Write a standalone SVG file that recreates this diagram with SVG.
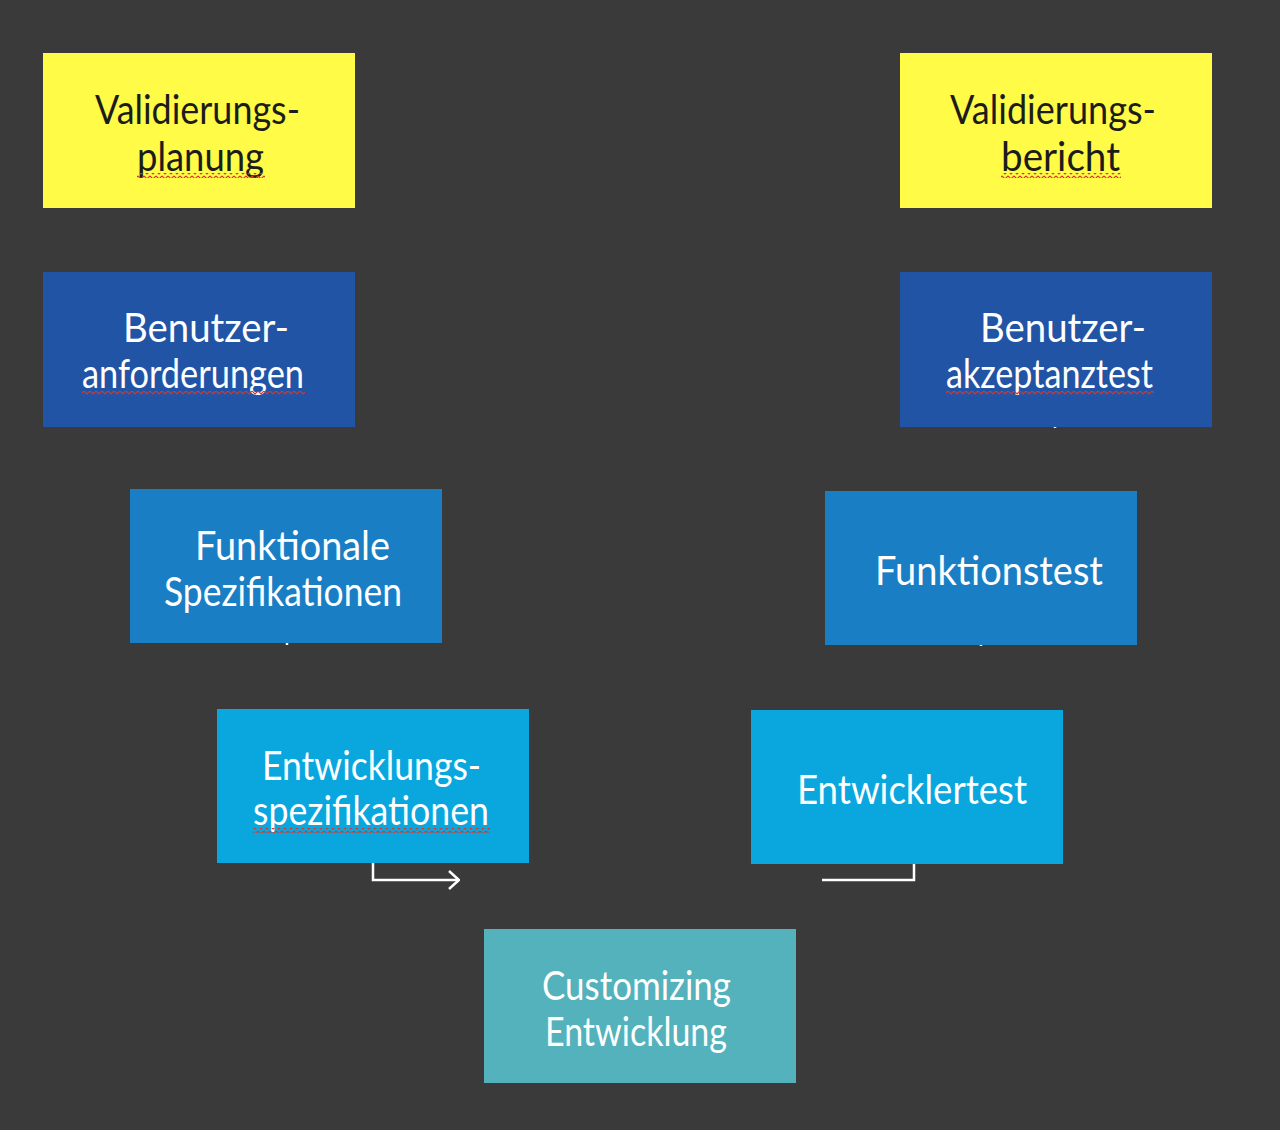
<svg xmlns="http://www.w3.org/2000/svg" width="1280" height="1130" viewBox="0 0 1280 1130">
<defs>
<style>
.t{font-family:Lato,"Open Sans","Liberation Sans",sans-serif;font-size:41px;}
.w{fill:#ffffff;}
.k{fill:#1c1c1c;}
.conn{fill:none;stroke:#ffffff;stroke-width:2.5;}
</style>
<marker id="arr" viewBox="0 0 12 20" refX="11" refY="10" markerWidth="12" markerHeight="20" markerUnits="userSpaceOnUse" orient="auto">
<path d="M1,1 L11,10 L1,19" fill="none" stroke="#ffffff" stroke-width="2.5"/>
</marker>
<pattern id="wave" width="6" height="5" patternUnits="userSpaceOnUse">
<path d="M0,1 L3,4 L6,1" fill="none" stroke="#d4382e" stroke-width="1.2"/>
</pattern>
</defs>
<rect x="0" y="0" width="1280" height="1130" fill="#3a3a3a"/>

<g id="connectors">
<path class="conn" d="M373,863 V880 H459" marker-end="url(#arr)"/>
<path class="conn" d="M914,864 V880 H822"/>
<path class="conn" d="M287,643 V645"/>
<path class="conn" d="M1055,427 V428"/>
<path class="conn" d="M981,645 V646"/>
</g>

<g id="validierungsplanung">
<rect x="43" y="53" width="312" height="155" fill="#fffb47"/>
<text class="t k" x="95" y="124" textLength="205" lengthAdjust="spacingAndGlyphs">Validierungs-</text>
<text class="t k" x="137" y="171" textLength="127" lengthAdjust="spacingAndGlyphs">planung</text>
<rect x="137" y="173" width="128" height="5" fill="url(#wave)"/>
</g>

<g id="validierungsbericht">
<rect x="900" y="53" width="312" height="155" fill="#fffb47"/>
<text class="t k" x="950" y="124" textLength="206" lengthAdjust="spacingAndGlyphs">Validierungs-</text>
<text class="t k" x="1001" y="171" textLength="119" lengthAdjust="spacingAndGlyphs">bericht</text>
<rect x="1001" y="173" width="120" height="5" fill="url(#wave)"/>
</g>

<g id="benutzeranforderungen">
<rect x="43" y="272" width="312" height="155" fill="#2254a6"/>
<text class="t w" x="123" y="342" textLength="166" lengthAdjust="spacingAndGlyphs">Benutzer-</text>
<text class="t w" x="82" y="388" textLength="222" lengthAdjust="spacingAndGlyphs">anforderungen</text>
<rect x="82" y="391" width="223" height="5" fill="url(#wave)"/>
</g>

<g id="benutzerakzeptanztest">
<rect x="900" y="272" width="312" height="155" fill="#2254a6"/>
<text class="t w" x="980" y="342" textLength="166" lengthAdjust="spacingAndGlyphs">Benutzer-</text>
<text class="t w" x="946" y="388" textLength="207" lengthAdjust="spacingAndGlyphs">akzeptanztest</text>
<rect x="946" y="391" width="208" height="5" fill="url(#wave)"/>
</g>

<g id="funktionale-spezifikationen">
<rect x="130" y="489" width="312" height="154" fill="#1a7ec5"/>
<text class="t w" x="195" y="560" textLength="195" lengthAdjust="spacingAndGlyphs">Funktionale</text>
<text class="t w" x="164" y="606" textLength="238" lengthAdjust="spacingAndGlyphs">Spezifikationen</text>
</g>

<g id="funktionstest">
<rect x="825" y="491" width="312" height="154" fill="#1a7ec5"/>
<text class="t w" x="875" y="585" textLength="228" lengthAdjust="spacingAndGlyphs">Funktionstest</text>
</g>

<g id="entwicklungsspezifikationen">
<rect x="217" y="709" width="312" height="154" fill="#09a7de"/>
<text class="t w" x="262" y="780" textLength="219" lengthAdjust="spacingAndGlyphs">Entwicklungs-</text>
<text class="t w" x="253" y="825" textLength="236" lengthAdjust="spacingAndGlyphs">spezifikationen</text>
<rect x="253" y="828" width="237" height="5" fill="url(#wave)"/>
</g>

<g id="entwicklertest">
<rect x="751" y="710" width="312" height="154" fill="#09a7de"/>
<text class="t w" x="797" y="804" textLength="230" lengthAdjust="spacingAndGlyphs">Entwicklertest</text>
</g>

<g id="customizing-entwicklung">
<rect x="484" y="929" width="312" height="154" fill="#53b2bb"/>
<text class="t w" x="542" y="1000" textLength="189" lengthAdjust="spacingAndGlyphs">Customizing</text>
<text class="t w" x="545" y="1046" textLength="182" lengthAdjust="spacingAndGlyphs">Entwicklung</text>
</g>
</svg>
